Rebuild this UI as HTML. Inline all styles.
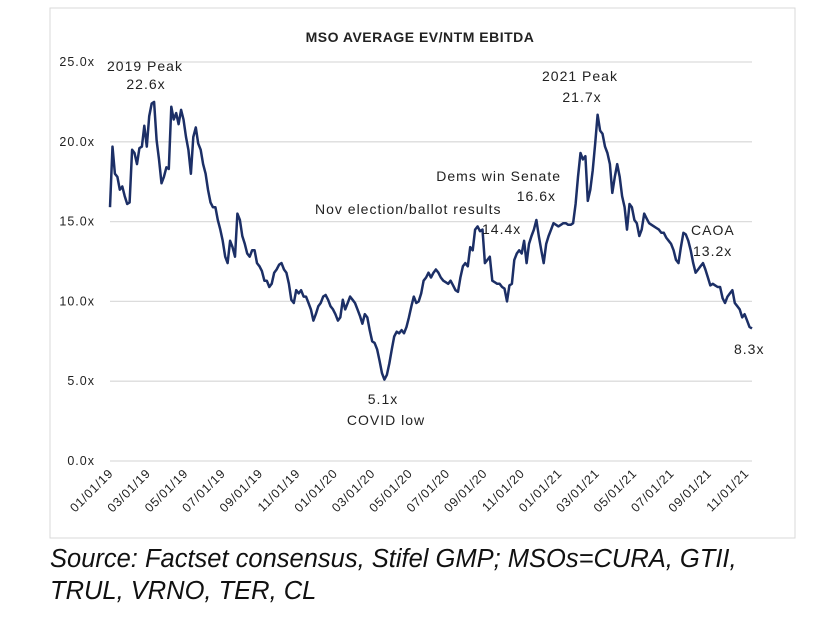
<!DOCTYPE html>
<html><head><meta charset="utf-8"><style>
body{margin:0;background:#fff;width:828px;height:624px;overflow:hidden;font-family:"Liberation Sans",sans-serif}
#src{position:absolute;left:50px;top:543px;font-style:italic;font-size:25.5px;line-height:32px;color:#111}
</style></head><body>
<svg width="828" height="624" style="position:absolute;left:0;top:0">
<rect x="50" y="8" width="745" height="530" fill="#fff" stroke="#d9d9d9"/>
<text x="420" y="42" text-anchor="middle" font-weight="bold" font-size="14" letter-spacing="0.5" fill="#222">MSO AVERAGE EV/NTM EBITDA</text>
<g id="grid"></g><g id="ylab"></g><g id="xlab"></g>
<path id="line" fill="none" stroke="#1c2f66" stroke-width="2.5" stroke-linejoin="round"/>
<g font-size="14" letter-spacing="1" fill="#222">
<text x="145" y="71" text-anchor="middle">2019 Peak</text>
<text x="146" y="89" text-anchor="middle">22.6x</text>
<text x="580" y="81" text-anchor="middle">2021 Peak</text>
<text x="582" y="102" text-anchor="middle">21.7x</text>
<text x="561" y="181" text-anchor="end">Dems win Senate</text>
<text x="556" y="201" text-anchor="end">16.6x</text>
<text x="315" y="214">Nov election/ballot results</text>
<text x="482" y="234">14.4x</text>
<text x="691" y="235">CAOA</text>
<text x="693" y="256">13.2x</text>
<text x="734" y="354">8.3x</text>
<text x="383" y="404" text-anchor="middle">5.1x</text>
<text x="386" y="425" text-anchor="middle">COVID low</text>
</g>
</svg>
<div id="src">Source: Factset consensus, Stifel GMP; MSOs=CURA, GTII,<br>TRUL, VRNO, TER, CL</div>
<script>
const yTicks=[0,5,10,15,20,25];
const yTickLabels=["0.0x","5.0x","10.0x","15.0x","20.0x","25.0x"];
const xTickLabels=["01/01/19","03/01/19","05/01/19","07/01/19","09/01/19","11/01/19","01/01/20","03/01/20","05/01/20","07/01/20","09/01/20","11/01/20","01/01/21","03/01/21","05/01/21","07/01/21","09/01/21","11/01/21"];
const xTickMonths=[0,2,4,6,8,10,12,14,16,18,20,22,24,26,28,30,32,34];
const values=[15.9,19.7,18.0,17.8,17.0,17.2,16.6,16.1,16.2,19.5,19.3,18.6,19.6,19.7,21.0,19.7,21.6,22.4,22.5,20.1,18.9,17.4,17.8,18.4,18.3,22.2,21.4,21.8,21.1,22.0,21.4,20.3,19.5,18.0,20.3,20.9,19.9,19.5,18.6,18.0,17.0,16.2,15.9,15.9,15.1,14.5,13.8,12.8,12.4,13.8,13.4,12.8,15.5,15.1,14.1,13.6,13.0,12.8,13.2,13.2,12.4,12.2,11.9,11.3,11.3,10.9,11.1,11.8,12.0,12.3,12.4,12.0,11.8,11.1,10.1,9.9,10.7,10.5,10.7,10.3,10.3,9.9,9.5,8.8,9.2,9.7,9.9,10.3,10.4,10.1,9.7,9.5,9.2,8.8,9.0,10.1,9.5,9.9,10.3,10.1,9.9,9.5,9.1,8.6,9.2,9.0,8.2,7.5,7.4,7.0,6.3,5.5,5.1,5.4,6.1,7.0,7.8,8.1,8.0,8.2,8.0,8.4,9.0,9.7,10.3,9.9,10.0,10.5,11.3,11.5,11.8,11.5,11.8,12.0,
11.8,11.5,11.3,11.2,11.1,11.3,11.0,10.7,10.6,11.5,12.2,12.4,12.2,13.4,13.2,14.5,14.7,14.4,14.5,12.4,12.6,12.8,11.3,11.2,11.1,11.1,10.9,10.8,10.0,11.0,11.1,12.6,13.0,13.2,13.0,13.8,12.4,13.6,14.1,14.5,15.1,14.1,13.2,12.4,13.6,14.1,14.5,14.9,14.8,14.7,14.8,14.9,14.9,14.8,14.8,14.9,16.1,17.8,19.3,18.9,19.1,16.3,17.0,18.2,19.9,21.7,20.7,20.5,19.7,19.3,18.6,16.8,17.8,18.6,17.8,16.6,15.9,14.5,16.1,15.9,15.1,14.9,14.1,14.5,15.5,15.2,14.9,14.8,14.7,14.6,14.5,14.3,14.3,14.0,13.8,13.6,13.2,12.6,12.4,13.4,14.3,14.2,13.8,13.2,12.4,11.8,12.0,12.2,12.4,12.0,11.5,11.0,11.1,11.0,10.9,10.9,10.2,9.9,10.3,10.5,10.7,9.9,9.7,9.5,9.0,9.2,8.8,8.4,8.3];
const NS="http://www.w3.org/2000/svg";
const X0=110,X1=752,Y0=461,PPU=15.96,MPX=18.7;
const y=v=>Y0-v*PPU;
const xi=i=>X0+i*(X1-X0)/(values.length-1);
const xm=m=>X0+m*MPX;
const grid=document.getElementById('grid'),yl=document.getElementById('ylab'),xl=document.getElementById('xlab');
yTicks.forEach((t,i)=>{
 const l=document.createElementNS(NS,'line');
 l.setAttribute('x1',X0);l.setAttribute('x2',X1);l.setAttribute('y1',y(t));l.setAttribute('y2',y(t));
 l.setAttribute('stroke','#dcdcdc');l.setAttribute('stroke-width','1.3');
 
 
 grid.appendChild(l);
 const tx=document.createElementNS(NS,'text');
 tx.setAttribute('x',95);tx.setAttribute('y',y(t)+4);tx.setAttribute('text-anchor','end');
 tx.setAttribute('font-size','12.5');tx.setAttribute('letter-spacing','1');tx.setAttribute('fill','#222');
 tx.textContent=yTickLabels[i];
 
 
 yl.appendChild(tx);
});
xTickLabels.forEach((s,i)=>{
 const tx=document.createElementNS(NS,'text');
 const px=xm(xTickMonths[i])+4,py=474;
 tx.setAttribute('x',px);tx.setAttribute('y',py);tx.setAttribute('text-anchor','end');
 tx.setAttribute('transform','rotate(-45 '+px+' '+py+')');
 tx.setAttribute('font-size','12.5');tx.setAttribute('letter-spacing','0.8');tx.setAttribute('fill','#222');
 tx.textContent=s;
 
 
 xl.appendChild(tx);
});
document.getElementById('line').setAttribute('d',values.map((v,i)=>(i?'L':'M')+xi(i).toFixed(1)+' '+y(v).toFixed(1)).join(''));
</script>
</body></html>
